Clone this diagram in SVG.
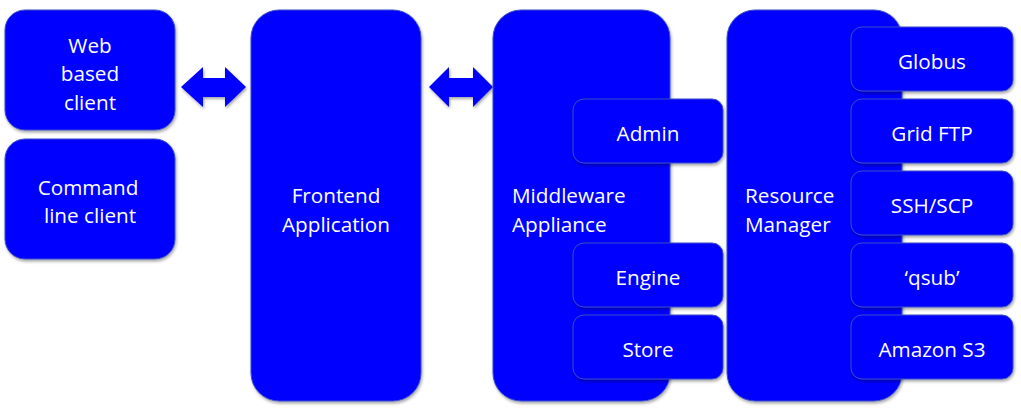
<svg xmlns="http://www.w3.org/2000/svg" width="1021" height="414" viewBox="0 0 1021 414">
<defs>
<filter id="sh" x="-10%" y="-10%" width="130%" height="130%">
<feDropShadow dx="1" dy="2" stdDeviation="1.5" flood-color="#000" flood-opacity="0.35"/>
</filter>
<style>
.box{fill:#0000ff;stroke:#3a4fc8;stroke-width:1;filter:url(#sh)}
.arr{fill:#0000ff;filter:url(#sh)}
text{font-family:"Open Sans","Noto Sans",sans-serif;font-size:20.7px;fill:#ffffff}
.c{text-anchor:middle}
</style>
</defs>
<g id="connectors">
<polygon class="arr" points="181,87 203,67 203,78 225,78 225,67 246,87 225,107 225,97 203,97 203,107"/>
<polygon class="arr" points="429,87 449,67 449,78 473,78 473,67 493,87 473,107 473,97 449,97 449,107"/>
</g>
<g id="web-client">
<rect class="box" x="5" y="10" width="170" height="120" rx="20"/>
<text class="c" x="90" y="53">Web</text>
<text class="c" x="90" y="81">based</text>
<text class="c" x="90" y="110">client</text>
</g>
<g id="cli-client">
<rect class="box" x="5" y="139" width="170" height="120" rx="20"/>
<text class="c" x="88" y="195">Command</text>
<text class="c" x="90" y="223">line client</text>
</g>
<g id="frontend">
<rect class="box" x="251" y="10" width="170" height="391" rx="28"/>
<text class="c" x="336" y="203">Frontend</text>
<text class="c" x="336" y="232">Application</text>
</g>
<g id="middleware">
<rect class="box" x="493" y="10" width="177" height="391" rx="28"/>
<text x="512" y="203">Middleware</text>
<text x="512" y="232">Appliance</text>
</g>
<g id="admin">
<rect class="box" x="573" y="99" width="150" height="64" rx="11"/>
<text class="c" x="648" y="141">Admin</text>
</g>
<g id="engine">
<rect class="box" x="573" y="243" width="150" height="64" rx="11"/>
<text class="c" x="648" y="285">Engine</text>
</g>
<g id="store">
<rect class="box" x="573" y="315" width="150" height="64" rx="11"/>
<text class="c" x="648" y="357">Store</text>
</g>
<g id="resource-manager">
<rect class="box" x="727" y="10" width="175" height="391" rx="28"/>
<text x="745" y="203">Resource</text>
<text x="745" y="232">Manager</text>
</g>
<g id="globus">
<rect class="box" x="851" y="27" width="162" height="64" rx="11"/>
<text class="c" x="932" y="69">Globus</text>
</g>
<g id="gridftp">
<rect class="box" x="851" y="99" width="162" height="64" rx="11"/>
<text class="c" x="932" y="141">Grid FTP</text>
</g>
<g id="sshscp">
<rect class="box" x="851" y="171" width="162" height="64" rx="11"/>
<text class="c" x="932" y="213">SSH/SCP</text>
</g>
<g id="qsub">
<rect class="box" x="851" y="243" width="162" height="64" rx="11"/>
<text class="c" x="932" y="285">‘qsub’</text>
</g>
<g id="amazon">
<rect class="box" x="851" y="315" width="162" height="64" rx="11"/>
<text class="c" x="932" y="357">Amazon S3</text>
</g>
</svg>
